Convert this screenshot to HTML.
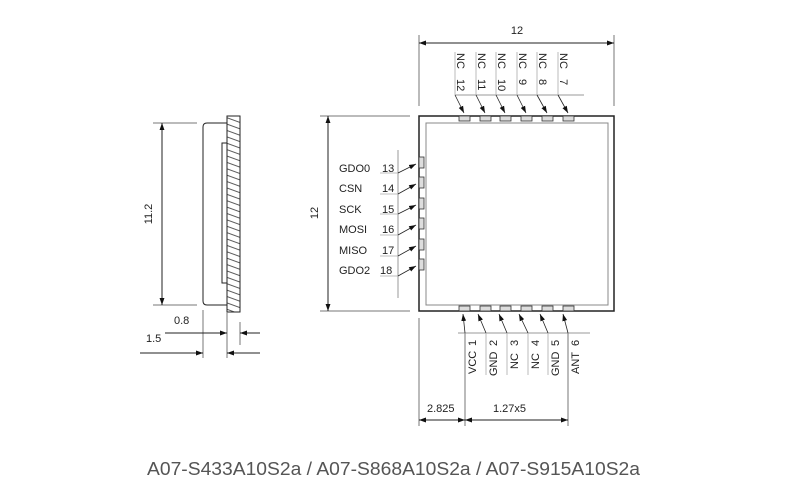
<!DOCTYPE html>
<html><head><meta charset="utf-8"><style>
html,body{margin:0;padding:0;background:#fff}
svg{display:block}
text{font-family:"Liberation Sans",Arial,sans-serif;font-size:11px;fill:#222}
</style></head><body>
<svg width="790" height="501" viewBox="0 0 790 501" xmlns="http://www.w3.org/2000/svg">
<defs>
<marker id="a" viewBox="0 0 10 10" refX="10" refY="5" markerWidth="7" markerHeight="7" orient="auto-start-reverse" markerUnits="userSpaceOnUse"><path d="M0,1.5 L10,5 L0,8.5 z" fill="#111"/></marker>
<pattern id="h" width="6" height="6" patternUnits="userSpaceOnUse" patternTransform="rotate(20)"><line x1="0" y1="3" x2="6" y2="3" stroke="#333" stroke-width="0.8"/></pattern>
</defs>
<g stroke="#222" stroke-width="1" fill="none">
<!-- side view -->
<rect x="227" y="116" width="13" height="196" fill="url(#h)"/>
<path d="M227,123 H207 Q203,123 203,127 V301 Q203,305 207,305 H227"/>
<rect x="222" y="143" width="5" height="140"/>
<line x1="153" y1="123" x2="197" y2="123" stroke="#777"/>
<line x1="153" y1="305" x2="197" y2="305" stroke="#777"/>
<line x1="162" y1="123" x2="162" y2="305" marker-start="url(#a)" marker-end="url(#a)"/>
<line x1="203" y1="310" x2="203" y2="358" stroke="#777"/>
<line x1="227" y1="312" x2="227" y2="358" stroke="#777"/>
<line x1="240" y1="322" x2="240" y2="345" stroke="#777"/>
<line x1="165" y1="333" x2="227" y2="333" marker-end="url(#a)"/>
<line x1="260" y1="333" x2="240" y2="333" marker-end="url(#a)"/>
<line x1="140" y1="353" x2="203" y2="353" marker-end="url(#a)"/>
<line x1="260" y1="353" x2="227" y2="353" marker-end="url(#a)"/>
<!-- main -->
<rect x="419" y="116" width="195" height="195" stroke-width="1.5"/>
<rect x="426" y="123" width="182" height="182" stroke="#888"/>
<line x1="419" y1="35" x2="419" y2="106" stroke="#777"/>
<line x1="614" y1="35" x2="614" y2="106" stroke="#777"/>
<line x1="419" y1="43" x2="614" y2="43" marker-start="url(#a)" marker-end="url(#a)"/>
<line x1="320" y1="116" x2="410" y2="116" stroke="#777"/>
<line x1="320" y1="311" x2="410" y2="311" stroke="#777"/>
<line x1="328" y1="116" x2="328" y2="311" marker-start="url(#a)" marker-end="url(#a)"/>
<line x1="455" y1="95" x2="584" y2="95" stroke="#999"/>
<line x1="398" y1="150" x2="398" y2="298" stroke="#999"/>
<line x1="458" y1="333" x2="590" y2="333" stroke="#999"/>
<line x1="419" y1="318" x2="419" y2="426" stroke="#777"/>
<line x1="465" y1="333" x2="465" y2="426" stroke="#777"/>
<line x1="568" y1="333" x2="568" y2="426" stroke="#777"/>
<line x1="419" y1="420" x2="465" y2="420" marker-start="url(#a)" marker-end="url(#a)"/>
<line x1="465" y1="420" x2="568" y2="420" marker-start="url(#a)" marker-end="url(#a)"/>
</g>
<g fill="#ddd" stroke="#333" stroke-width="0.8">
<rect x="459" y="116" width="11" height="5"/><rect x="480" y="116" width="11" height="5"/><rect x="500" y="116" width="11" height="5"/><rect x="521" y="116" width="11" height="5"/><rect x="542" y="116" width="11" height="5"/><rect x="563" y="116" width="11" height="5"/>
<rect x="459" y="306" width="11" height="5"/><rect x="480" y="306" width="11" height="5"/><rect x="500" y="306" width="11" height="5"/><rect x="521" y="306" width="11" height="5"/><rect x="542" y="306" width="11" height="5"/><rect x="563" y="306" width="11" height="5"/>
<rect x="419" y="157" width="5" height="11"/><rect x="419" y="177" width="5" height="11"/><rect x="419" y="198" width="5" height="11"/><rect x="419" y="218" width="5" height="11"/><rect x="419" y="239" width="5" height="11"/><rect x="419" y="259" width="5" height="11"/>
</g>
<g stroke="#222" stroke-width="0.8" fill="none">
<!-- top leaders -->
<line x1="455" y1="52" x2="455" y2="95" stroke="#aaa"/><line x1="455" y1="95" x2="464" y2="113" marker-end="url(#a)"/>
<line x1="476" y1="52" x2="476" y2="95" stroke="#aaa"/><line x1="476" y1="95" x2="485" y2="113" marker-end="url(#a)"/>
<line x1="496" y1="52" x2="496" y2="95" stroke="#aaa"/><line x1="496" y1="95" x2="505" y2="113" marker-end="url(#a)"/>
<line x1="517" y1="52" x2="517" y2="95" stroke="#aaa"/><line x1="517" y1="95" x2="526" y2="113" marker-end="url(#a)"/>
<line x1="537" y1="52" x2="537" y2="95" stroke="#aaa"/><line x1="537" y1="95" x2="547" y2="113" marker-end="url(#a)"/>
<line x1="558" y1="52" x2="558" y2="95" stroke="#aaa"/><line x1="558" y1="95" x2="568" y2="113" marker-end="url(#a)"/>
<!-- bottom leaders -->
<line x1="465" y1="333" x2="463" y2="314" marker-end="url(#a)"/>
<line x1="486" y1="333" x2="478" y2="314" marker-end="url(#a)"/><line x1="486" y1="333" x2="486" y2="375" stroke="#aaa"/>
<line x1="507" y1="333" x2="499" y2="314" marker-end="url(#a)"/><line x1="507" y1="333" x2="507" y2="375" stroke="#aaa"/>
<line x1="528" y1="333" x2="519" y2="314" marker-end="url(#a)"/><line x1="528" y1="333" x2="528" y2="375" stroke="#aaa"/>
<line x1="548" y1="333" x2="540" y2="314" marker-end="url(#a)"/><line x1="548" y1="333" x2="548" y2="375" stroke="#aaa"/>
<line x1="568" y1="333" x2="563" y2="314" marker-end="url(#a)"/>
<!-- left leaders -->
<line x1="380" y1="173" x2="398" y2="173" stroke="#aaa"/><line x1="398" y1="173" x2="416" y2="164" marker-end="url(#a)"/>
<line x1="380" y1="194" x2="398" y2="194" stroke="#aaa"/><line x1="398" y1="194" x2="416" y2="184" marker-end="url(#a)"/>
<line x1="380" y1="214" x2="398" y2="214" stroke="#aaa"/><line x1="398" y1="214" x2="416" y2="205" marker-end="url(#a)"/>
<line x1="380" y1="235" x2="398" y2="235" stroke="#aaa"/><line x1="398" y1="235" x2="416" y2="225" marker-end="url(#a)"/>
<line x1="380" y1="256" x2="398" y2="256" stroke="#aaa"/><line x1="398" y1="256" x2="416" y2="246" marker-end="url(#a)"/>
<line x1="380" y1="276" x2="398" y2="276" stroke="#aaa"/><line x1="398" y1="276" x2="416" y2="266" marker-end="url(#a)"/>
</g>
<!-- texts -->
<text x="517" y="34" text-anchor="middle">12</text>
<text transform="translate(318,213) rotate(-90)" text-anchor="middle">12</text>
<text transform="translate(152,214) rotate(-90)" text-anchor="middle">11.2</text>
<text x="174" y="324">0.8</text>
<text x="146" y="342">1.5</text>
<text x="427" y="412">2.825</text>
<text x="493" y="412">1.27x5</text>
<g>
<text transform="translate(457,53) rotate(90)">NC</text><text transform="translate(457,79) rotate(90)">12</text>
<text transform="translate(478,53) rotate(90)">NC</text><text transform="translate(478,79) rotate(90)">11</text>
<text transform="translate(498,53) rotate(90)">NC</text><text transform="translate(498,79) rotate(90)">10</text>
<text transform="translate(519,53) rotate(90)">NC</text><text transform="translate(519,79) rotate(90)">9</text>
<text transform="translate(539,53) rotate(90)">NC</text><text transform="translate(539,79) rotate(90)">8</text>
<text transform="translate(560,53) rotate(90)">NC</text><text transform="translate(560,79) rotate(90)">7</text>
</g>
<g>
<text transform="translate(476,346) rotate(-90)">1</text><text transform="translate(476,374) rotate(-90)">VCC</text>
<text transform="translate(497,346) rotate(-90)">2</text><text transform="translate(497,376) rotate(-90)">GND</text>
<text transform="translate(518,346) rotate(-90)">3</text><text transform="translate(518,369) rotate(-90)">NC</text>
<text transform="translate(539,346) rotate(-90)">4</text><text transform="translate(539,369) rotate(-90)">NC</text>
<text transform="translate(559,346) rotate(-90)">5</text><text transform="translate(559,376) rotate(-90)">GND</text>
<text transform="translate(579,346) rotate(-90)">6</text><text transform="translate(579,374) rotate(-90)">ANT</text>
</g>
<g>
<text x="339" y="172">GDO0</text><text x="382" y="172">13</text>
<text x="339" y="192">CSN</text><text x="382" y="192">14</text>
<text x="339" y="213">SCK</text><text x="382" y="213">15</text>
<text x="339" y="233">MOSI</text><text x="382" y="233">16</text>
<text x="339" y="254">MISO</text><text x="382" y="254">17</text>
<text x="339" y="274">GDO2</text><text x="380" y="274">18</text>
</g>
<text x="147" y="475" textLength="493" lengthAdjust="spacingAndGlyphs" style="font-size:18px;fill:#555">A07-S433A10S2a / A07-S868A10S2a / A07-S915A10S2a</text>
</svg>
</body></html>
